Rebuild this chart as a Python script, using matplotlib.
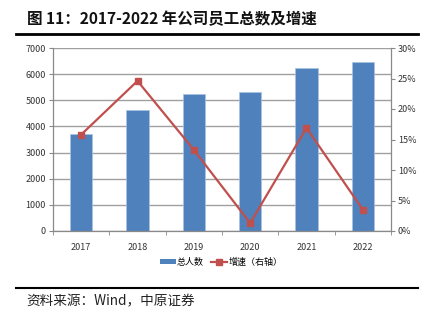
import matplotlib
matplotlib.use("Agg")
import matplotlib.pyplot as plt
from matplotlib.lines import Line2D
from matplotlib.patches import Patch
from matplotlib.ticker import FuncFormatter, FixedLocator

plt.rcParams['font.family'] = ['Noto Sans CJK SC', 'DejaVu Sans']

years = ['2017', '2018', '2019', '2020', '2021', '2022']
employees = [3700, 4630, 5250, 5330, 6240, 6460]
growth = [15.8, 24.6, 13.3, 1.3, 16.9, 3.5]

bar_color = '#4F81BD'
line_color = '#C0504D'
axis_gray = '#898989'
grid_gray = '#A0A0A0'

W, H = 427, 323
fig = plt.figure(figsize=(W / 100, H / 100), dpi=100)

# plot area in pixel coordinates
left, right, top, bottom = 53, 391, 48, 231
ax = fig.add_axes([left / W, 1 - bottom / H, (right - left) / W, (bottom - top) / H])
x = list(range(len(years)))
ax.bar(x, employees, width=0.4, color=bar_color, edgecolor='#A9C3E3',
       linewidth=0.5, zorder=2)
ax.set_xlim(-0.5, len(years) - 0.5)
ax.set_ylim(0, 7000)
ax.set_yticks(range(0, 7001, 1000))
ax.yaxis.grid(True, color=grid_gray, linewidth=1.0, zorder=0)
ax.set_axisbelow(True)
ax.set_xticks(x)
ax.set_xticklabels(years)
ax.xaxis.set_minor_locator(FixedLocator([i - 0.5 for i in range(len(years) + 1)]))
ax.tick_params(axis='x', which='major', length=0, pad=9, labelsize=6.5, labelcolor='#333333')
ax.tick_params(axis='x', which='minor', length=3, direction='out', color=axis_gray)
ax.tick_params(axis='y', length=3, direction='out', color=axis_gray, labelsize=6.5,
               labelcolor='#333333', pad=2)
for s in ['top', 'right']:
    ax.spines[s].set_visible(False)
for s in ['left', 'bottom']:
    ax.spines[s].set_color(axis_gray)
    ax.spines[s].set_linewidth(0.9)

ax2 = ax.twinx()
ax2.plot(x, growth, color=line_color, linewidth=1.6, marker='s', markersize=5,
         zorder=3)
ax2.set_ylim(0, 30)
ax2.set_yticks(range(0, 31, 5))
ax2.yaxis.set_major_formatter(FuncFormatter(lambda v, p: f'{int(v)}%'))
ax2.tick_params(axis='y', length=3, direction='out', color=axis_gray, labelsize=6.5,
                labelcolor='#333333', pad=2)
for s in ['top', 'left', 'bottom']:
    ax2.spines[s].set_visible(False)
ax2.spines['right'].set_color(axis_gray)
ax2.spines['right'].set_linewidth(0.9)

handles = [Patch(facecolor=bar_color, edgecolor='none'),
           Line2D([], [], color=line_color, linewidth=1.6, marker='s', markersize=5)]
fig.legend(handles, ['总人数', '增速（右轴）'], loc='center',
           bbox_to_anchor=(221 / W, 1 - 262 / H), ncol=2, frameon=False,
           fontsize=6.5, handlelength=1.8, handleheight=0.55, columnspacing=0.8,
           handletextpad=0.1)

# header and footer
fig.text(27 / W, 1 - 19 / H, '图 11：2017-2022 年公司员工总数及增速',
         fontsize=11.2, fontweight='bold', va='center', ha='left', color='#111111')
fig.add_artist(Line2D([16 / W, 418 / W], [1 - 34 / H, 1 - 34 / H],
                      color='black', linewidth=2))
fig.add_artist(Line2D([16 / W, 418 / W], [1 - 288 / H, 1 - 288 / H],
                      color='black', linewidth=1.5))
fig.text(26 / W, 1 - 301 / H, '资料来源：Wind，中原证券', fontsize=9.8,
         va='center', ha='left', color='#222222')

fig.savefig('out.png', dpi=100)
